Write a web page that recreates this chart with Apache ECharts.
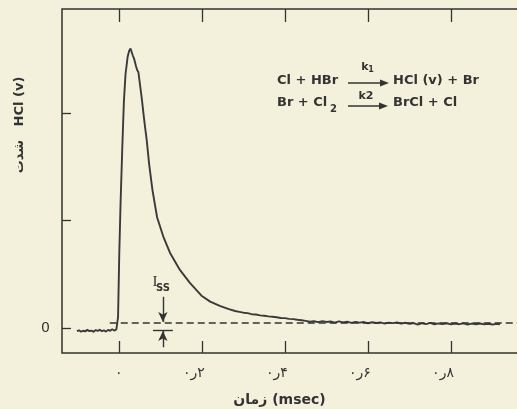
<!DOCTYPE html>
<html>
<head>
    <meta charset="utf-8">
    <title>HCl (v)</title>
    <script src="https://cdn.jsdelivr.net/npm/echarts@6/dist/echarts.min.js"></script>
    <style>
        html, body { margin: 0; padding: 0; background: #f3f1dc; }
        #main { width: 517px; height: 409px; }
    </style>
</head>
<body>
    <div id="main"></div>
    <script type="text/javascript">
        // time in msec, signal in arbitrary HCl(v) units
        var time = [
            -0.101, -0.096, -0.091, -0.086, -0.081, -0.076, -0.071, -0.066, -0.061, -0.056,
            -0.051, -0.046, -0.041, -0.036, -0.031, -0.026, -0.021, -0.016, -0.011, -0.006,
            -0.003, -0.002, -0.001, 0.001, 0.004, 0.008, 0.012, 0.016, 0.021, 0.025,
            0.028, 0.031, 0.034, 0.037, 0.041, 0.044, 0.047, 0.051, 0.055, 0.059,
            0.063, 0.067, 0.073, 0.081, 0.092, 0.107, 0.123, 0.147, 0.171, 0.199,
            0.22, 0.243, 0.265, 0.28, 0.29, 0.30, 0.31, 0.32, 0.33, 0.34,
            0.35, 0.36, 0.37, 0.38, 0.39, 0.40, 0.41, 0.42, 0.43, 0.44,
            0.45, 0.46, 0.47, 0.48, 0.49, 0.50, 0.51, 0.52, 0.53, 0.54,
            0.55, 0.56, 0.57, 0.58, 0.59, 0.60, 0.61, 0.62, 0.63, 0.64,
            0.65, 0.66, 0.67, 0.68, 0.69, 0.70, 0.71, 0.72, 0.73, 0.74,
            0.75, 0.76, 0.77, 0.78, 0.79, 0.80, 0.81, 0.82, 0.83, 0.84,
            0.85, 0.86, 0.87, 0.88, 0.89, 0.90, 0.91, 0.918
        ];
        var signal = [
            -0.030, -0.022, -0.035, -0.026, -0.032, -0.018, -0.030, -0.024, -0.036, -0.020,
            -0.028, -0.016, -0.030, -0.022, -0.034, -0.018, -0.026, -0.012, -0.024, -0.014,
            -0.020, 0.10, 0.30, 0.70, 1.15, 1.65, 2.10, 2.36, 2.52, 2.58,
            2.60, 2.59, 2.53, 2.50, 2.44, 2.40, 2.38, 2.26, 2.14, 2.00,
            1.87, 1.75, 1.52, 1.28, 1.03, 0.85, 0.70, 0.54, 0.42, 0.30,
            0.245, 0.205, 0.175, 0.158, 0.150, 0.142, 0.138, 0.128, 0.125, 0.117,
            0.114, 0.108, 0.104, 0.100, 0.093, 0.091, 0.084, 0.082, 0.076, 0.072,
            0.066, 0.058, 0.062, 0.054, 0.064, 0.056, 0.060, 0.050, 0.061, 0.052,
            0.058, 0.047, 0.056, 0.050, 0.055, 0.044, 0.053, 0.046, 0.052, 0.041,
            0.050, 0.045, 0.051, 0.040, 0.048, 0.038, 0.046, 0.030, 0.044, 0.036,
            0.047, 0.034, 0.042, 0.036, 0.044, 0.033, 0.041, 0.035, 0.043, 0.032,
            0.040, 0.034, 0.041, 0.033, 0.039, 0.032, 0.038, 0.034
        ];
        var xTickValues = [0, 0.2, 0.4, 0.6, 0.8];
        var xTickLabels = ['۰', '۰ر۲', '۰ر۴', '۰ر۶', '۰ر۸'];
        var yTickValues = [0, 1, 2];
        var issLevel = 0.051;     // dashed steady-state level
        var baseLevel = -0.02;    // pre-flash baseline

        var ink = '#333';
        var seriesData = time.map(function (t, i) { return [t, signal[i]]; });

        // keep the persian decimal in visual order ۰ ر ۲
        function ltr(s) { return s.split('').join('\u200E'); }

        var myChart = echarts.init(document.getElementById('main'));

        var option = {
            backgroundColor: '#f3f1dc',
            animation: false,
            grid: {
                left: 62, top: 9, right: -10, bottom: 56,
                outerBoundsMode: 'none',
                show: true, borderColor: ink, borderWidth: 1.5,
                backgroundColor: 'transparent'
            },
            xAxis: [{
                type: 'value',
                min: -0.137, max: 0.983,
                axisLine: { show: false, onZero: false },
                splitLine: { show: false },
                axisTick: {
                    inside: true, length: 12, customValues: xTickValues,
                    lineStyle: { color: ink, width: 1.3 }
                },
                axisLabel: {
                    customValues: xTickValues,
                    margin: 13,
                    color: ink,
                    fontSize: 14,
                    fontFamily: 'DejaVu Sans',
                    formatter: function (v) {
                        var i = xTickValues.indexOf(v);
                        var s = i < 0 ? '' : ltr(xTickLabels[i]);
                        return i > 0 ? '{d|' + s + '}' : s;
                    },
                    rich: { d: { fontSize: 14, fontFamily: 'DejaVu Sans', color: ink, padding: [0, 16, 0, 0] } }
                },
                name: 'زمان (msec)',
                nameLocation: 'middle',
                nameGap: 40,
                nameTextStyle: {
                    color: ink, fontSize: 14, fontWeight: 'bold',
                    fontFamily: 'DejaVu Sans', padding: [0, 30, 0, 0]
                }
            }, {
                type: 'value',
                position: 'top',
                min: -0.137, max: 0.983,
                axisLine: { show: false, onZero: false },
                splitLine: { show: false },
                axisLabel: { show: false },
                axisTick: {
                    inside: true, length: 13, customValues: xTickValues,
                    lineStyle: { color: ink, width: 1.3 }
                }
            }],
            yAxis: {
                type: 'value',
                min: -0.233, max: 2.967,
                axisLine: { show: false, onZero: false },
                splitLine: { show: false },
                axisTick: {
                    inside: true, length: 9, customValues: yTickValues,
                    lineStyle: { color: ink, width: 1.3 }
                },
                axisLabel: {
                    customValues: [0],
                    margin: 12,
                    color: ink,
                    fontSize: 14,
                    fontFamily: 'DejaVu Sans',
                    formatter: function (v) { return v === 0 ? '0' : ''; }
                }
            },
            series: [{
                type: 'line',
                data: seriesData,
                showSymbol: false,
                lineStyle: { color: '#3a3a3a', width: 1.9 },
                markLine: {
                    silent: true,
                    symbol: ['none', 'none'],
                    label: { show: false },
                    lineStyle: { color: ink, width: 1.4, type: 'solid' },
                    data: [
                        [{ coord: [-0.022, issLevel], lineStyle: { type: [7, 4], width: 1.5 } },
                         { coord: [0.96, issLevel] }],
                        [{ coord: [0.106, 0.29] },
                         { coord: [0.106, issLevel + 0.005], symbol: 'arrow', symbolSize: [7, 10] }],
                        [{ coord: [0.082, baseLevel] }, { coord: [0.13, baseLevel] }],
                        [{ coord: [0.106, -0.18] },
                         { coord: [0.106, baseLevel - 0.008], symbol: 'arrow', symbolSize: [7, 10] }]
                    ]
                }
            }],
            graphic: [
                // y axis title
                {
                    type: 'text', x: 20, y: 125, rotation: Math.PI / 2,
                    style: {
                        text: 'شدت   HCl (v)', fill: ink, fontSize: 13, fontWeight: 'bold',
                        fontFamily: 'DejaVu Sans', align: 'center', verticalAlign: 'middle'
                    }
                },
                // I_ss label
                {
                    type: 'text', x: 155, y: 282,
                    style: {
                        text: 'I', fill: ink, fontSize: 15, fontFamily: 'Liberation Serif',
                        align: 'center', verticalAlign: 'middle'
                    }
                },
                {
                    type: 'text', x: 163, y: 288,
                    style: {
                        text: 'SS', fill: ink, fontSize: 10, fontWeight: 'bold',
                        fontFamily: 'DejaVu Sans', align: 'center', verticalAlign: 'middle'
                    }
                },
                // reaction scheme
                {
                    type: 'text', x: 277, y: 81,
                    style: { text: 'Cl + HBr', fill: ink, fontSize: 13, fontWeight: 'bold', fontFamily: 'DejaVu Sans', verticalAlign: 'middle' }
                },
                {
                    type: 'line', shape: { x1: 348, y1: 83, x2: 386, y2: 83 },
                    style: { stroke: ink, lineWidth: 1.5 }
                },
                {
                    type: 'polygon', shape: { points: [[389, 83], [380, 79.5], [380, 86.5]] },
                    style: { fill: ink }
                },
                {
                    type: 'text', x: 365, y: 67,
                    style: { text: 'k', fill: ink, fontSize: 11, fontWeight: 'bold', fontFamily: 'DejaVu Sans', align: 'center', verticalAlign: 'middle' }
                },
                {
                    type: 'text', x: 371, y: 70,
                    style: { text: '1', fill: ink, fontSize: 8, fontWeight: 'bold', fontFamily: 'DejaVu Sans', align: 'center', verticalAlign: 'middle' }
                },
                {
                    type: 'text', x: 393, y: 81,
                    style: { text: 'HCl (v) + Br', fill: ink, fontSize: 13, fontWeight: 'bold', fontFamily: 'DejaVu Sans', verticalAlign: 'middle' }
                },
                {
                    type: 'text', x: 277, y: 103,
                    style: { text: 'Br + Cl', fill: ink, fontSize: 13, fontWeight: 'bold', fontFamily: 'DejaVu Sans', verticalAlign: 'middle' }
                },
                {
                    type: 'text', x: 330, y: 109,
                    style: { text: '2', fill: ink, fontSize: 10, fontWeight: 'bold', fontFamily: 'DejaVu Sans', verticalAlign: 'middle' }
                },
                {
                    type: 'line', shape: { x1: 348, y1: 106, x2: 385, y2: 106 },
                    style: { stroke: ink, lineWidth: 1.5 }
                },
                {
                    type: 'polygon', shape: { points: [[388, 106], [379, 102.5], [379, 109.5]] },
                    style: { fill: ink }
                },
                {
                    type: 'text', x: 366, y: 96,
                    style: { text: 'k2', fill: ink, fontSize: 11, fontWeight: 'bold', fontFamily: 'DejaVu Sans', align: 'center', verticalAlign: 'middle' }
                },
                {
                    type: 'text', x: 393, y: 103,
                    style: { text: 'BrCl + Cl', fill: ink, fontSize: 13, fontWeight: 'bold', fontFamily: 'DejaVu Sans', verticalAlign: 'middle' }
                }
            ]
        };

        myChart.setOption(option);
    </script>
</body>
</html>
